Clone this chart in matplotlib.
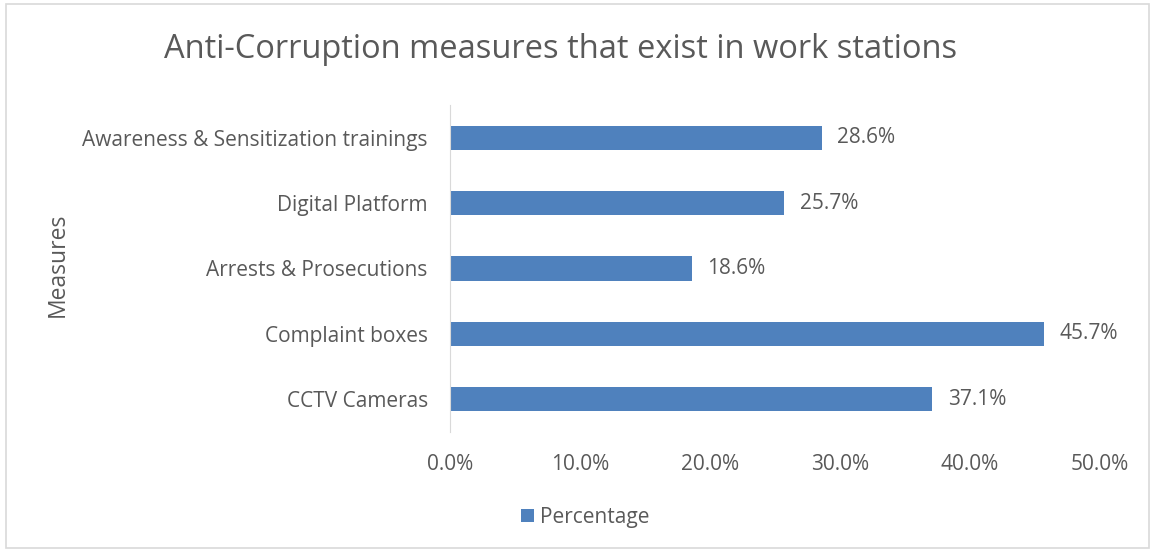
import matplotlib.pyplot as plt
from matplotlib.patches import Rectangle
from matplotlib.ticker import FuncFormatter

measures = ['CCTV Cameras', 'Complaint boxes', 'Arrests & Prosecutions',
            'Digital Platform', 'Awareness & Sensitization trainings']
percentage = [37.1, 45.7, 18.6, 25.7, 28.6]

grey = '#595959'
plt.rcParams['font.family'] = ['Open Sans', 'DejaVu Sans']

fig = plt.figure(figsize=(11.55, 5.52), dpi=100)
ax = fig.add_axes([0.3896, 0.2174, 0.5628, 0.5924])

bars = ax.barh(measures, percentage, height=0.37, color='#4F81BD', label='Percentage')
for b, v in zip(bars, percentage):
    ax.text(v + 1.2, b.get_y() + b.get_height() / 2, f'{v:.1f}%',
            va='center', ha='left', fontsize=15, color=grey)

ax.set_xlim(0, 50)
ax.set_ylim(-0.5, len(measures) - 0.5)
ax.set_xticks([0, 10, 20, 30, 40, 50])
ax.xaxis.set_major_formatter(FuncFormatter(lambda x, p: f'{x:.1f}%'))
ax.tick_params(axis='both', length=0, labelsize=15, colors=grey)
ax.tick_params(axis='x', pad=16)
ax.tick_params(axis='y', pad=16)
for s in ['top', 'right', 'bottom']:
    ax.spines[s].set_visible(False)
ax.spines['left'].set_color('#d9d9d9')

fig.text(0.05, 0.52, 'Measures', rotation=90, va='center', ha='center',
         fontsize=16.5, color=grey)
fig.text(0.485, 0.91, 'Anti-Corruption measures that exist in work stations',
         ha='center', va='center', fontsize=23.5, color=grey)

fig.legend(loc='center', bbox_to_anchor=(0.507, 0.063), frameon=False,
           fontsize=15, labelcolor=grey, handlelength=0.6, handleheight=0.6,
           handletextpad=0.3)

fig.patches.append(Rectangle((0.005, 0.008), 0.99, 0.984, transform=fig.transFigure,
                             fill=False, edgecolor='#d9d9d9', linewidth=1.2))

fig.savefig('out.png', dpi=100)
